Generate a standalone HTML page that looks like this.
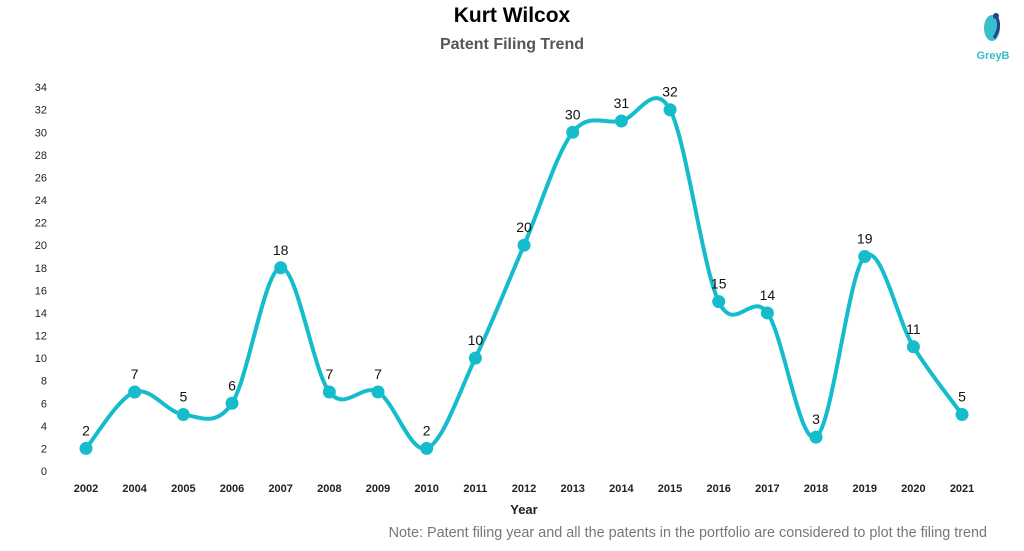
<!DOCTYPE html>
<html><head><meta charset="utf-8"><style>
body{margin:0;background:#fff;width:1024px;height:546px;overflow:hidden;font-family:"Liberation Sans",sans-serif}
</style></head><body>
<svg id="s" width="1024" height="546" xmlns="http://www.w3.org/2000/svg" font-family="Liberation Sans, sans-serif">
<text x="512" y="22" text-anchor="middle" font-size="21" font-weight="bold" fill="#000">Kurt Wilcox</text>
<text x="512" y="49" text-anchor="middle" font-size="16" font-weight="bold" fill="#555">Patent Filing Trend</text>
<ellipse cx="992" cy="28" rx="8" ry="13" fill="#35c0cc"/>
<path d="M996 16 q6 10 -2 22" stroke="#2a3f8f" stroke-width="3" fill="none"/>
<circle cx="996" cy="16" r="3" fill="#2a3f8f"/>
<text x="993" y="59" text-anchor="middle" font-size="11" font-weight="bold" fill="#35c0cc">GreyB</text>
<g id="ax" font-size="11" fill="#222"></g>
<path id="ln" fill="none" stroke="#14bccc" stroke-width="4"/>
<g id="pts"></g>
<text x="524" y="514" text-anchor="middle" font-size="13" font-weight="bold" fill="#222">Year</text>
<text x="987" y="537" text-anchor="end" font-size="14.4" fill="#777">Note: Patent filing year and all the patents in the portfolio are considered to plot the filing trend</text>
</svg>
<script>
var d=[2,7,5,6,18,7,7,2,10,20,30,31,32,15,14,3,19,11,5];
var yrs=[2002,2004,2005,2006,2007,2008,2009,2010,2011,2012,2013,2014,2015,2016,2017,2018,2019,2020,2021];
var ns="http://www.w3.org/2000/svg";
function X(i){return 86+i*48.67}
function Y(v){return 471-v*11.29}
var ax=document.getElementById('ax'),pts=document.getElementById('pts');
function t(p,x,y,s,a,extra){var e=document.createElementNS(ns,'text');e.setAttribute('x',x);e.setAttribute('y',y);e.setAttribute('text-anchor',a);for(var k in extra)e.setAttribute(k,extra[k]);e.textContent=s;p.appendChild(e);}
for(var v=0;v<=34;v+=2)t(ax,47,Y(v)+4,v,'end',{});
yrs.forEach(function(y,i){t(ax,X(i),492,y,'middle',{'font-weight':'bold'})});
var p=d.map(function(v,i){return [X(i),Y(v)]});
var s='M'+p[0][0]+' '+p[0][1];
for(var i=0;i<p.length-1;i++){var p0=p[i-1]||p[i],p1=p[i],p2=p[i+1],p3=p[i+2]||p2;var k=1/6;
s+=' C'+(p1[0]+(p2[0]-p0[0])*k)+' '+(p1[1]+(p2[1]-p0[1])*k)+' '+(p2[0]-(p3[0]-p1[0])*k)+' '+(p2[1]-(p3[1]-p1[1])*k)+' '+p2[0]+' '+p2[1];}
document.getElementById('ln').setAttribute('d',s);
p.forEach(function(q,i){var c=document.createElementNS(ns,'circle');c.setAttribute('cx',q[0]);c.setAttribute('cy',q[1]);c.setAttribute('r',6.5);c.setAttribute('fill','#14bccc');pts.appendChild(c);
t(pts,q[0],q[1]-13,d[i],'middle',{'font-size':'14','fill':'#111'});});
</script>
</body></html>
